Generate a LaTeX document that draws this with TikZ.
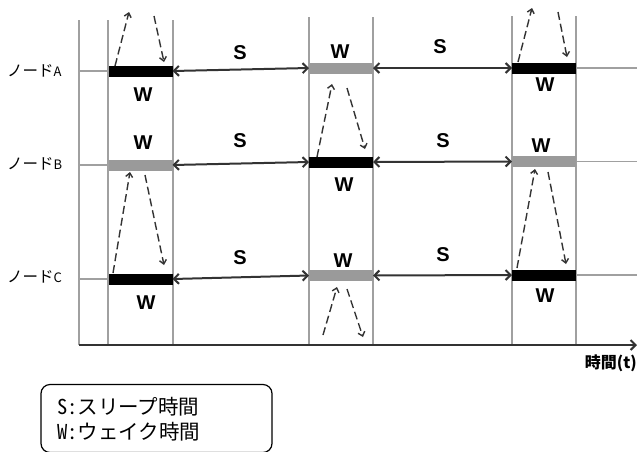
\documentclass[tikz,border=0pt]{standalone}
\usepackage{fontspec}
\setmainfont{Liberation Sans}
\newfontfamily\jp{Noto Sans CJK JP}
\newfontfamily\jphw[RawFeature=+hwid]{Noto Sans CJK JP}
\usetikzlibrary{arrows.meta}
\definecolor{gridgray}{HTML}{A0A0A0}
\definecolor{wakegrayc}{HTML}{9A9A9A}
\definecolor{arrowdark}{HTML}{333333}
\begin{document}
\begin{tikzpicture}[x=1pt,y=-1pt,
  gridline/.style={draw=gridgray,line width=1.2pt},
  barblack/.style={fill=black,minimum width=64pt,minimum height=11pt,inner sep=0pt,outer sep=0pt},
  bargray/.style={fill=wakegrayc,minimum width=64pt,minimum height=11pt,inner sep=0pt,outer sep=0pt},
  sleeparrow/.style={draw=arrowdark,line width=2pt,{Straight Barb[length=5pt,width=10pt]}-{Straight Barb[length=5pt,width=10pt]}},
  msg/.style={draw=arrowdark,line width=1.4pt,dash pattern=on 8pt off 4pt,-{Straight Barb[length=4pt,width=7pt]}},
  axisline/.style={draw=arrowdark,line width=2pt,-{Straight Barb[length=5pt,width=10pt]}},
  wlbl/.style={font=\fontsize{20}{20}\selectfont\bfseries,inner sep=0pt},
  nodelbl/.style={font=\jp\fontsize{15.5}{15.5}\selectfont,anchor=west,inner sep=0pt},
  legendbox/.style={draw=black,line width=1.2pt,rounded corners=9pt,minimum width=231pt,minimum height=68pt,inner sep=0pt},
  legendtxt/.style={font=\jphw\fontsize{20.5}{20.5}\selectfont,anchor=west,inner sep=0pt}]
\useasboundingbox (0,0) rectangle (637,451);
\fill[white] (0,0) rectangle (637,451);

% vertical grid lines
\foreach \x/\t in {79/20,108/20,173/20,309/17,373/17,512/16,576/16}
  \draw[gridline] (\x,\t) -- (\x,345);

% wake bars
\node[barblack] (a1) at (140.5,71) {};
\node[bargray]  (a2) at (341,68) {};
\node[barblack] (a3) at (544,68) {};
\node[bargray]  (b1) at (140.5,165) {};
\node[barblack] (b2) at (341,162) {};
\node[bargray]  (b3) at (544,161.5) {};
\node[barblack] (c1) at (140.5,279) {};
\node[bargray]  (c2) at (341,275.5) {};
\node[barblack] (c3) at (544,275) {};

% free ends of the node lines
\coordinate (aL) at (79,71);  \coordinate (aR) at (637,68);
\coordinate (bL) at (79,165); \coordinate (bR) at (637,161.5);
\coordinate (cL) at (79,279); \coordinate (cR) at (637,275);
\draw[gridline] (aL) -- (a1.west);  \draw[gridline] (a3.east) -- (aR);
\draw[gridline] (bL) -- (b1.west);  \draw[gridline] (b3.east) -- (bR);
\draw[gridline] (cL) -- (c1.west);  \draw[gridline] (c3.east) -- (cR);

% sleep arrows
\draw[sleeparrow] (a1.east) -- (a2.west);
\draw[sleeparrow] (a2.east) -- (a3.west);
\draw[sleeparrow] (b1.east) -- (b2.west);
\draw[sleeparrow] (b2.east) -- (b3.west);
\draw[sleeparrow] (c1.east) -- (c2.west);
\draw[sleeparrow] (c2.east) -- (c3.west);

% time axis
\coordinate (ax0) at (79,345);
\coordinate (ax1) at (637,345);
\draw[axisline] (ax0) -- (ax1);
\node[font=\jp\bfseries\fontsize{16}{16}\selectfont,anchor=east,inner sep=0pt] (tlabel) at (637,363) {時間(t)};

% dashed message arrows
\coordinate (m1s) at (115,66);  \coordinate (m1e) at (129,12);
\coordinate (m2s) at (154,16);  \coordinate (m2e) at (164,62);
\coordinate (m3s) at (113,273); \coordinate (m3e) at (130,172);
\coordinate (m4s) at (145,175); \coordinate (m4e) at (164,265);
\coordinate (m5s) at (317,157); \coordinate (m5e) at (332,84);
\coordinate (m6s) at (347,88);  \coordinate (m6e) at (365,149);
\coordinate (m7s) at (323,335); \coordinate (m7e) at (337,287);
\coordinate (m8s) at (347,289); \coordinate (m8e) at (363,337);
\coordinate (m9s) at (518,62);  \coordinate (m9e) at (532,8);
\coordinate (m10s) at (558,12); \coordinate (m10e) at (567,57);
\coordinate (m11s) at (517,268);\coordinate (m11e) at (535,169);
\coordinate (m12s) at (548,172);\coordinate (m12e) at (566,264);
\foreach \i in {1,...,12} \draw[msg] (m\i s) -- (m\i e);

% S labels
\node[wlbl] (s1) at (240,52.5) {S};
\node[wlbl] (s2) at (440,47) {S};
\node[wlbl] (s3) at (240,141) {S};
\node[wlbl] (s4) at (443,141) {S};
\node[wlbl] (s5) at (240,257.5) {S};
\node[wlbl] (s6) at (443,255) {S};

% W labels
\node[wlbl] (w1) at (143,94.5) {W};
\node[wlbl] (w2) at (340,51.5) {W};
\node[wlbl] (w3) at (545,85) {W};
\node[wlbl] (w4) at (143,142.5) {W};
\node[wlbl] (w5) at (344,185) {W};
\node[wlbl] (w6) at (541,146) {W};
\node[wlbl] (w7) at (146,302.5) {W};
\node[wlbl] (w8) at (343,261) {W};
\node[wlbl] (w9) at (545,296) {W};

% node names
\node[nodelbl] (nA) at (7,71) {ノード{\fontsize{13}{13}\selectfont A}};
\node[nodelbl] (nB) at (7,164) {ノード{\fontsize{13}{13}\selectfont B}};
\node[nodelbl] (nC) at (7,277) {ノード{\fontsize{13}{13}\selectfont C}};

% legend
\node[legendbox] (legend) at (156.5,418.5) {};
\node[legendtxt] (leg1) at (57,407) {S:スリープ時間};
\node[legendtxt] (leg2) at (57,432) {W:ウェイク時間};
\end{tikzpicture}
\end{document}
